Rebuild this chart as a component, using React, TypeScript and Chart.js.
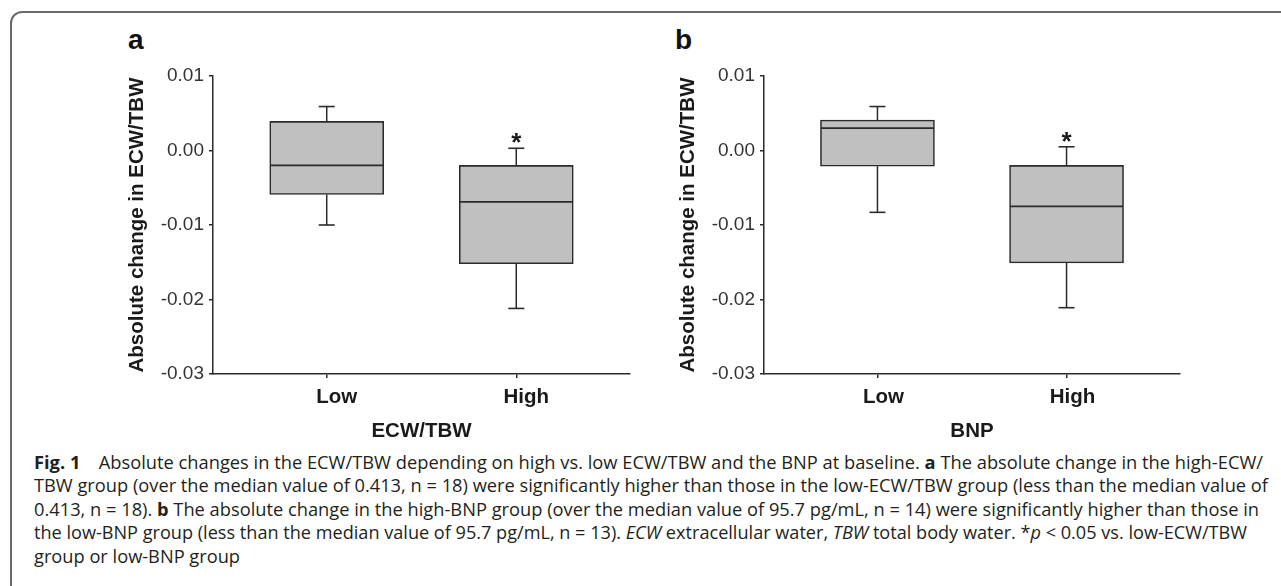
import React, { useEffect, useLayoutEffect, useRef } from 'react';
import { Chart, registerables } from 'chart.js';

Chart.register(...registerables);

// ---------- data ----------
const categories = ['Low', 'High'];
const categoryPositions = [1, 2];
const significant = [false, true];

const yTickValues = [0.01, 0, -0.01, -0.02, -0.03];
const yTickLabels = ['0.01', '0.00', '-0.01', '-0.02', '-0.03'];

// Panel a: grouped by ECW/TBW
const ecwMin = [-0.01, -0.0212];
const ecwQ1 = [-0.0059, -0.0152];
const ecwMedian = [-0.002, -0.0069];
const ecwQ3 = [0.0039, -0.002];
const ecwMax = [0.0059, 0.0003];

// Panel b: grouped by BNP
const bnpMin = [-0.0083, -0.0211];
const bnpQ1 = [-0.0021, -0.0151];
const bnpMedian = [0.003, -0.0075];
const bnpQ3 = [0.0041, -0.002];
const bnpMax = [0.0059, 0.0005];

const yAxisTitle = 'Absolute change in ECW/TBW';

// ---------- styles ----------
const FONT = "'Liberation Sans', Arial, sans-serif";
const INK = '#2b2b2b';
const BOX_FILL = '#c0c0c0';

type Panel = {
  letter: string;
  xTitle: string;
  min: number[];
  q1: number[];
  median: number[];
  q3: number[];
  max: number[];
  left: number;
  padRight: number;
  labelOffset: number;
};

const panels: Panel[] = [
  { letter: 'a', xTitle: 'ECW/TBW', min: ecwMin, q1: ecwQ1, median: ecwMedian, q3: ecwQ3, max: ecwMax, left: 100, padRight: 30, labelOffset: 10 },
  { letter: 'b', xTitle: 'BNP', min: bnpMin, q1: bnpQ1, median: bnpMedian, q3: bnpQ3, max: bnpMax, left: 651, padRight: 31, labelOffset: 6 },
];

const CANVAS_W = 560;
const CANVAS_H = 410;
const CANVAS_TOP = 40;

function buildConfig(p: Panel): any {
  const boxes = categories.map((_, i) => ({ x: categoryPositions[i], y: [p.q1[i], p.q3[i]] }));
  const medians = categories.map((_, i) => ({ x: categoryPositions[i], y: p.median[i] }));
  const caps: any[] = [];
  const whiskers: any[] = [];
  categories.forEach((_, i) => {
    const x = categoryPositions[i];
    caps.push({ x, y: p.max[i] }, { x, y: p.min[i] });
    whiskers.push({ x, y: p.max[i] }, { x, y: p.q3[i] }, { x, y: null });
    whiskers.push({ x, y: p.q1[i] }, { x, y: p.min[i] }, { x, y: null });
  });

  const asteriskPlugin = {
    id: 'asterisk',
    afterDatasetsDraw(chart: any) {
      const { ctx, scales } = chart;
      ctx.save();
      ctx.font = `bold 26px ${FONT}`;
      ctx.textAlign = 'center';
      ctx.textBaseline = 'alphabetic';
      ctx.fillStyle = '#1a1a1a';
      significant.forEach((s, i) => {
        if (!s) return;
        ctx.fillText('*', scales.x.getPixelForValue(categoryPositions[i]), scales.y.getPixelForValue(p.max[i]) + 3);
      });
      ctx.restore();
    },
  };

  return {
    type: 'bar',
    data: {
      datasets: [
        {
          type: 'scatter',
          data: medians,
          pointStyle: 'line',
          pointRadius: 56.5,
          pointHoverRadius: 56.5,
          pointBorderWidth: 1.6,
          pointBorderColor: INK,
          clip: false,
          order: 0,
        },
        {
          type: 'scatter',
          data: caps,
          pointStyle: 'line',
          pointRadius: 8,
          pointHoverRadius: 8,
          pointBorderWidth: 1.6,
          pointBorderColor: INK,
          clip: false,
          order: 1,
        },
        {
          type: 'line',
          data: whiskers,
          borderColor: INK,
          borderWidth: 1.5,
          pointRadius: 0,
          spanGaps: false,
          fill: false,
          order: 2,
        },
        {
          type: 'bar',
          data: boxes,
          backgroundColor: BOX_FILL,
          borderColor: INK,
          borderWidth: 1.6,
          borderSkipped: false,
          barThickness: 114,
          order: 3,
        },
      ],
    },
    options: {
      animation: false,
      responsive: false,
      maintainAspectRatio: false,
      events: [],
      layout: { autoPadding: false, padding: { top: 36, right: p.padRight, left: 0, bottom: 0 } },
      plugins: { legend: { display: false }, tooltip: { enabled: false } },
      scales: {
        x: {
          type: 'linear',
          min: 0.4,
          max: 2.6,
          offset: false,
          afterBuildTicks: (s: any) => {
            s.ticks = categoryPositions.map((v) => ({ value: v }));
          },
          afterFit: (s: any) => {
            s.height = 76;
          },
          ticks: {
            callback: (v: number) => categories[categoryPositions.indexOf(v)],
            font: { family: FONT, size: 20.5, weight: 'bold' },
            color: '#1a1a1a',
            padding: 7,
            labelOffset: p.labelOffset,
            maxRotation: 0,
            autoSkip: false,
          },
          grid: { display: true, drawOnChartArea: false, drawTicks: true, tickLength: 4, color: INK, lineWidth: 1.5, offset: false },
          border: { display: true, color: INK, width: 1.5 },
          title: {
            display: true,
            text: p.xTitle,
            font: { family: FONT, size: 20.5, weight: 'bold' },
            color: '#1a1a1a',
            padding: { top: 0, bottom: 6 },
          },
        },
        y: {
          type: 'linear',
          min: -0.03,
          max: 0.01,
          afterBuildTicks: (s: any) => {
            s.ticks = yTickValues.map((v) => ({ value: v }));
          },
          afterFit: (s: any) => {
            s.width = 113;
          },
          ticks: {
            callback: (v: number) => yTickLabels[yTickValues.findIndex((t) => Math.abs(t - v) < 1e-9)],
            font: { family: FONT, size: 19 },
            color: '#333',
            padding: 5,
          },
          grid: { display: true, drawOnChartArea: false, drawTicks: true, tickLength: 4, color: INK, lineWidth: 1.5 },
          border: { display: true, color: INK, width: 1.5 },
          title: {
            display: true,
            text: yAxisTitle,
            font: { family: FONT, size: 20.5, weight: 'bold' },
            color: '#1a1a1a',
            padding: { top: 25, bottom: 0 },
          },
        },
      },
    },
    plugins: [asteriskPlugin],
  };
}

function BoxPanel({ panel }: { panel: Panel }) {
  const ref = useRef<HTMLCanvasElement | null>(null);
  useEffect(() => {
    if (!ref.current) return;
    const chart = new Chart(ref.current, buildConfig(panel));
    return () => chart.destroy();
  }, [panel]);
  return (
    <canvas
      ref={ref}
      width={CANVAS_W}
      height={CANVAS_H}
      style={{ position: 'absolute', left: panel.left, top: CANVAS_TOP, width: CANVAS_W, height: CANVAS_H }}
    />
  );
}

// ---------- caption ----------
const captionTargets = [1229, 1234, 1225, 1213, 0];
const captionTops = [462, 485.5, 509, 532.5, 556];

function Caption() {
  const refs = useRef<(HTMLDivElement | null)[]>([]);
  useLayoutEffect(() => {
    const scales: number[] = [];
    refs.current.forEach((el, i) => {
      if (!el || !captionTargets[i]) return;
      el.style.transform = 'none';
      const w = el.getBoundingClientRect().width;
      const s = captionTargets[i] / w;
      scales.push(s);
      el.style.transform = `scaleX(${s})`;
    });
    const avg = scales.reduce((a, b) => a + b, 0) / Math.max(scales.length, 1);
    refs.current.forEach((el, i) => {
      if (el && !captionTargets[i]) el.style.transform = `scaleX(${avg})`;
    });
  }, []);
  const lineStyle = (i: number): React.CSSProperties => ({
    position: 'absolute',
    left: 34,
    top: captionTops[i] - 11.5,
    height: 23,
    lineHeight: '23px',
    whiteSpace: 'nowrap',
    fontFamily: "'Open Sans', 'Noto Sans', sans-serif",
    fontSize: 17.5,
    color: '#231f20',
    transformOrigin: 'left center',
  });
  const lines: React.ReactNode[] = [
    <>
      <b>Fig. 1</b>{'\u2003'}Absolute changes in the ECW/TBW depending on high vs. low ECW/TBW and the BNP at baseline. <b>a</b> The absolute change in the high-ECW/
    </>,
    <>TBW group (over the median value of 0.413, n = 18) were significantly higher than those in the low-ECW/TBW group (less than the median value of</>,
    <>
      0.413, n = 18). <b>b</b> The absolute change in the high-BNP group (over the median value of 95.7 pg/mL, n = 14) were significantly higher than those in
    </>,
    <>
      the low-BNP group (less than the median value of 95.7 pg/mL, n = 13). <i>ECW</i> extracellular water, <i>TBW</i> total body water. *<i>p</i> &lt; 0.05 vs. low-ECW/TBW
    </>,
    <>group or low-BNP group</>,
  ];
  return (
    <>
      {lines.map((l, i) => (
        <div key={i} ref={(el) => { refs.current[i] = el; }} style={lineStyle(i)}>
          {l}
        </div>
      ))}
    </>
  );
}

export default function App() {
  return (
    <div
      style={{
        position: 'absolute',
        left: 0,
        top: 0,
        width: 1281,
        height: 586,
        overflow: 'hidden',
        background: '#fff',
      }}
    >
      <div
        style={{
          position: 'absolute',
          left: 10,
          top: 11,
          width: 1400,
          height: 700,
          border: '2px solid #6a6a6a',
          borderTopLeftRadius: 12,
          boxSizing: 'border-box',
        }}
      />
      {panels.map((p) => (
        <div
          key={p.letter + '-label'}
          style={{
            position: 'absolute',
            left: p.letter === 'a' ? 128 : 675,
            top: 26,
            fontFamily: FONT,
            fontWeight: 'bold',
            fontSize: 28,
            lineHeight: '28px',
            color: '#111',
          }}
        >
          {p.letter}
        </div>
      ))}
      {panels.map((p) => (
        <BoxPanel key={p.letter} panel={p} />
      ))}
      <Caption />
    </div>
  );
}
